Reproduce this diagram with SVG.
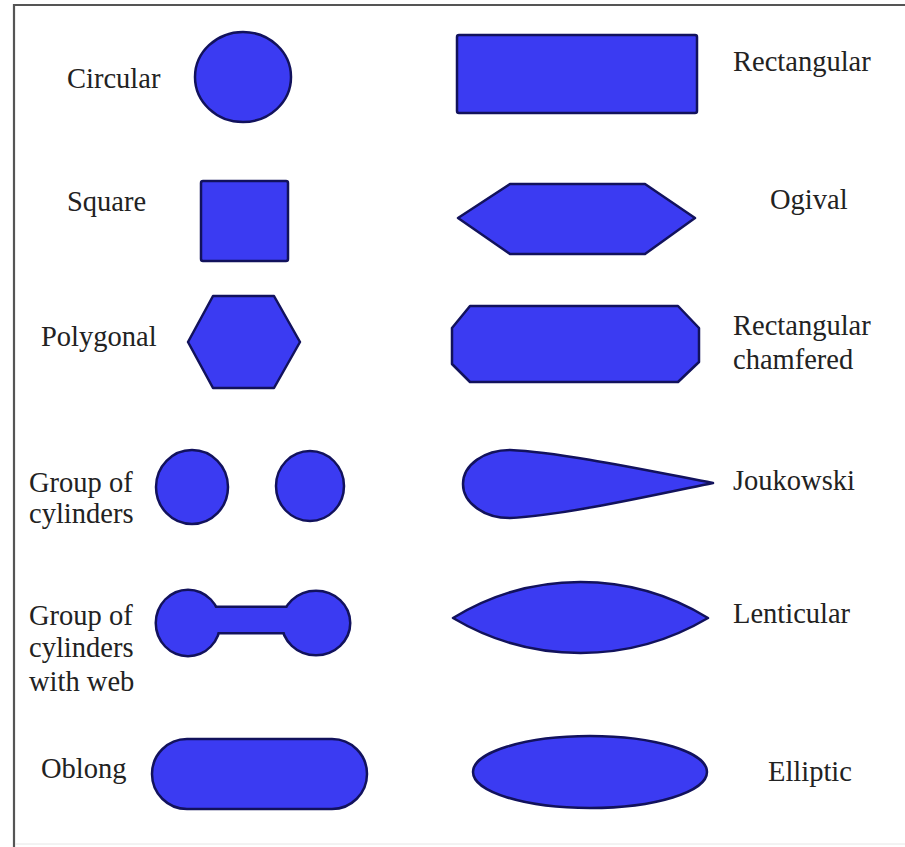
<svg xmlns="http://www.w3.org/2000/svg" width="905" height="847" viewBox="0 0 905 847">
<style>
.s{fill:#3b3bf2;stroke:#12125c;stroke-width:2.5;stroke-linejoin:round}
.f{fill:#3b3bf2;stroke:none}
.o{fill:none;stroke:#12125c;stroke-width:5}
.t{font-size:28.5px;fill:#222}
</style>
<rect width="905" height="847" fill="#fff"/>
<g id="frame">
<path d="M14,847 V5 H905" fill="none" stroke="#555" stroke-width="2.2"/>
<path d="M15,844 H905" fill="none" stroke="#e6e6e6" stroke-width="1"/>
</g>
<g id="connectors"></g>
<g font-family="'Liberation Serif', 'DejaVu Serif', 'Times New Roman', serif">
<g id="circular">
<ellipse class="s" cx="243" cy="77" rx="48" ry="45"/>
<text class="t" x="67" y="88">Circular</text>
</g>
<g id="rectangular">
<rect class="s" x="457" y="35" width="240" height="78" rx="2"/>
<text class="t" x="733" y="71">Rectangular</text>
</g>
<g id="square">
<rect class="s" x="201" y="181" width="87" height="80" rx="2"/>
<text class="t" x="67" y="211">Square</text>
</g>
<g id="ogival">
<polygon class="s" points="458,218 510,184 645,184 695,218 645,254 510,254"/>
<text class="t" x="770" y="209">Ogival</text>
</g>
<g id="polygonal">
<polygon class="s" points="188,342 213,296 274,296 300,342 274,388 213,388"/>
<text class="t" x="41" y="346">Polygonal</text>
</g>
<g id="rect-chamfered">
<polygon class="s" points="470,306 678,306 699,328 699,362 678,382 470,382 452,364 452,328"/>
<text class="t" x="733" y="335">Rectangular</text>
<text class="t" x="733" y="369">chamfered</text>
</g>
<g id="group-cylinders">
<ellipse class="s" cx="192" cy="487" rx="36" ry="37"/>
<ellipse class="s" cx="310" cy="486" rx="34" ry="35"/>
<text class="t" x="29" y="492">Group of</text>
<text class="t" x="29" y="523">cylinders</text>
</g>
<g id="joukowski">
<path class="s" d="M713,483 C650,471 560,452 510,450 C484,450 463,465 463,484 C463,503 484,518 510,518 C560,516 650,496 713,483 Z"/>
<text class="t" x="733" y="490">Joukowski</text>
</g>
<g id="cylinders-web">
<ellipse class="o" cx="188" cy="623" rx="31" ry="32"/>
<ellipse class="o" cx="316" cy="623" rx="33" ry="31"/>
<path class="o" d="M215,608 H290 V632 H215 Z"/>
<ellipse class="f" cx="188" cy="623" rx="31" ry="32"/>
<ellipse class="f" cx="316" cy="623" rx="33" ry="31"/>
<path class="f" d="M212,608 H292 V632 H212 Z"/>
<text class="t" x="29" y="625">Group of</text>
<text class="t" x="29" y="657">cylinders</text>
<text class="t" x="29" y="691">with web</text>
</g>
<g id="lenticular">
<path class="s" d="M453,618 A244,244 0 0 1 708,618 A250,250 0 0 1 453,618 Z"/>
<text class="t" x="733" y="623">Lenticular</text>
</g>
<g id="oblong">
<rect class="s" x="152" y="739" width="215" height="70" rx="35"/>
<text class="t" x="41" y="778">Oblong</text>
</g>
<g id="elliptic">
<ellipse class="s" cx="590" cy="772" rx="117" ry="36"/>
<text class="t" x="768" y="781">Elliptic</text>
</g>
</g>
</svg>
